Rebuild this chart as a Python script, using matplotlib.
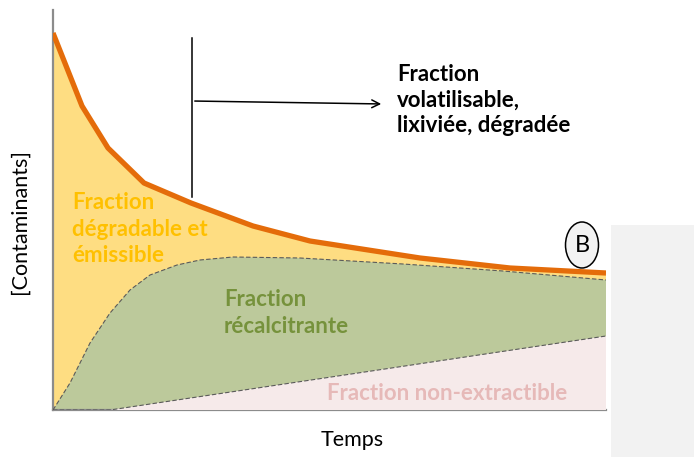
import numpy as np
import matplotlib.pyplot as plt
from matplotlib.patches import Ellipse, Rectangle

# courbes (temps, concentration)
t_total = [0, 29, 55, 91, 138, 200, 257, 367, 457, 553]
c_total = [377, 304, 262, 227, 207, 184, 169, 152, 142, 137]

t_recalc = [0, 17, 37, 57, 77, 97, 124, 147, 180, 247, 350, 450, 553]
c_recalc = [0, 27, 67, 97, 120, 135, 145, 150, 153, 152, 146, 139, 130]

t_nonext = [0, 57, 553]
c_nonext = [0, 0, 74]

plt.rcParams['font.family'] = ['Lato', 'DejaVu Sans']

fig = plt.figure(figsize=(6.94, 4.57), dpi=100)
ax = fig.add_axes([53 / 694, 47 / 457, 553 / 694, 400 / 457])
ax.set_xlim(0, 553)
ax.set_ylim(0, 400)

ax.fill(t_total + [553, 0], c_total + [0, 0], color='#fedd82', lw=0, zorder=1)
ax.fill(t_recalc + [553], c_recalc + [0], color='#bcc99b', lw=0, zorder=2)
ax.fill(t_nonext + [553], c_nonext + [0], color='#f6eaea', lw=0, zorder=3)

ax.plot(t_recalc, c_recalc, color='#5a5a5a', lw=0.8, ls=(0, (4, 2)), zorder=4)
ax.plot(t_nonext, c_nonext, color='#5a5a5a', lw=0.8, ls=(0, (4, 2)), zorder=4)
ax.plot(t_total, c_total, color='#e46c0a', lw=3.8, solid_capstyle='butt', zorder=5)

for s in ['top', 'right']:
    ax.spines[s].set_visible(False)
for s in ['left', 'bottom']:
    ax.spines[s].set_color('#8c8c8c')
    ax.spines[s].set_linewidth(1.6)
ax.set_xticks([])
ax.set_yticks([])

fs = 16
ax.text(19, 181, 'Fraction\ndégradable et\némissible', color='#ffc000', fontsize=fs,
        fontweight='bold', ha='left', va='center', linespacing=1.3, zorder=6)
ax.text(171, 97, 'Fraction\nrécalcitrante', color='#76923c', fontsize=fs,
        fontweight='bold', ha='left', va='center', linespacing=1.3, zorder=6)
ax.text(394, 17, 'Fraction non-extractible', color='#e6b9b8', fontsize=fs,
        fontweight='bold', ha='center', va='center', zorder=6)
ax.text(344, 310, 'Fraction\nvolatilisable,\nlixiviée, dégradée', color='black',
        fontsize=fs, fontweight='bold', ha='left', va='center', linespacing=1.25,
        clip_on=False)

ax.plot([139, 139], [372, 213], color='black', lw=1.1, clip_on=False)
ax.annotate('', xy=(331, 306), xytext=(139, 309),
            arrowprops=dict(arrowstyle='->', color='black', lw=1.1, mutation_scale=14),
            annotation_clip=False)

ax.add_patch(Ellipse((529, 165), 33, 46, facecolor='#f2f2f2', edgecolor='black',
                     lw=1.1, zorder=7, clip_on=False))
ax.text(529, 164, 'B', fontsize=17, ha='center', va='center', zorder=8, clip_on=False)

fig.add_artist(Rectangle((611 / 694, 0), 83 / 694, 232 / 457, transform=fig.transFigure,
                         facecolor='#f2f2f2', edgecolor='none'))

fig.text(20 / 694, 1 - 222 / 457, '[Contaminants]', rotation=90, fontsize=15.5,
         ha='center', va='center')
fig.text(352 / 694, 1 - 440 / 457, 'Temps', fontsize=15.5, ha='center', va='center')

fig.savefig('out.png', dpi=100)
